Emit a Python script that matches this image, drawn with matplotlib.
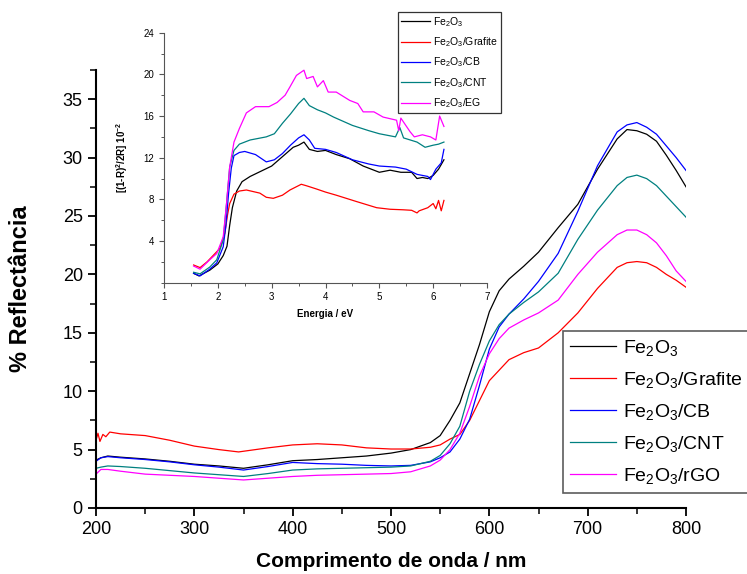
import numpy as np
import matplotlib
matplotlib.use('Agg')
import matplotlib.pyplot as plt
from matplotlib.ticker import MultipleLocator

plt.rcParams['font.family'] = ['Liberation Sans', 'DejaVu Sans']
plt.rcParams['mathtext.default'] = 'regular'

# main plot: reflectance vs wavelength
wl = [200, 205, 212, 225, 250, 275, 300, 325, 350, 375, 400, 425, 450, 475, 500,
      520, 540, 550, 560, 570, 580, 590, 600, 610, 620, 635, 650, 670, 690, 710,
      730, 740, 750, 760, 770, 780, 790, 800]
r_fe2o3 = [4.1, 4.3, 4.45, 4.35, 4.2, 4.0, 3.75, 3.6, 3.4, 3.7, 4.05, 4.15, 4.3, 4.45, 4.7,
           5.0, 5.6, 6.2, 7.5, 9.0, 11.5, 14.0, 16.8, 18.6, 19.6, 20.7, 21.9, 24.0, 26.0, 29.0,
           31.6, 32.4, 32.3, 32.0, 31.4, 30.2, 28.9, 27.5]
r_cb = [4.0, 4.3, 4.4, 4.3, 4.15, 3.95, 3.7, 3.5, 3.25, 3.55, 3.9, 3.8, 3.75, 3.65, 3.6,
        3.65, 3.95, 4.3, 4.8, 5.9, 7.6, 10.5, 13.6, 15.5, 16.6, 17.9, 19.4, 21.8, 25.4, 29.3,
        32.2, 32.8, 33.0, 32.6, 32.0, 31.0, 30.0, 28.9]
r_cnt = [3.4, 3.5, 3.6, 3.55, 3.4, 3.2, 3.0, 2.85, 2.7, 2.95, 3.25, 3.35, 3.4, 3.45, 3.5,
         3.6, 4.0, 4.5, 5.5, 7.0, 10.0, 12.3, 14.3, 15.7, 16.6, 17.6, 18.5, 20.1, 23.0, 25.5,
         27.6, 28.3, 28.5, 28.2, 27.6, 26.7, 25.8, 24.9]
r_rgo = [2.9, 3.3, 3.3, 3.15, 2.9, 2.8, 2.7, 2.55, 2.4, 2.55, 2.7, 2.8, 2.85, 2.9, 2.95,
         3.1, 3.6, 4.1, 5.0, 6.4, 8.7, 11.3, 13.2, 14.5, 15.4, 16.1, 16.7, 17.8, 20.0, 21.9,
         23.4, 23.8, 23.8, 23.4, 22.7, 21.6, 20.3, 19.4]
wl_graf = [200, 202, 204, 207, 210, 214, 225, 250, 275, 300, 325, 345, 375, 400, 425,
           450, 475, 500, 520, 540, 550, 560, 570, 580, 590, 600, 610, 620, 635, 650,
           670, 690, 710, 730, 740, 750, 760, 770, 780, 790, 800]
r_graf = [5.8, 6.4, 5.7, 6.3, 6.1, 6.5, 6.35, 6.2, 5.8, 5.3, 5.0, 4.8, 5.15, 5.4, 5.5,
          5.4, 5.15, 5.05, 5.05, 5.2, 5.4, 5.9, 6.3, 7.5, 9.2, 10.9, 11.8, 12.7, 13.3, 13.7,
          15.0, 16.7, 18.8, 20.6, 21.0, 21.1, 21.0, 20.6, 20.0, 19.5, 18.9]

# inset: [(1-R)^2/2R] vs energy
e_fe2o3 = [1.55, 1.65, 1.85, 2.0, 2.1, 2.17, 2.22, 2.27, 2.35, 2.45, 2.6, 2.8, 3.0, 3.2, 3.4,
           3.5, 3.6, 3.7, 3.85, 4.0, 4.2, 4.45, 4.7, 5.0, 5.2, 5.4, 5.6, 5.7, 5.8, 5.9, 6.0,
           6.1, 6.2]
k_fe2o3 = [0.9, 0.65, 1.2, 1.8, 2.6, 3.5, 5.5, 7.2, 8.8, 9.7, 10.2, 10.7, 11.2, 12.1, 13.0,
           13.2, 13.5, 12.8, 12.6, 12.7, 12.3, 11.9, 11.2, 10.6, 10.8, 10.6, 10.6, 10.0, 10.1,
           10.0, 10.3, 10.9, 11.8]
e_graf = [1.55, 1.67, 1.8, 1.92, 2.04, 2.13, 2.18, 2.22, 2.3, 2.4, 2.53, 2.78, 2.9, 3.03,
          3.2, 3.34, 3.55, 3.65, 3.83, 4.0, 4.2, 4.57, 4.95, 5.2, 5.44, 5.6, 5.7, 5.74, 5.9,
          6.0, 6.05, 6.1, 6.15, 6.2]
k_graf = [1.7, 1.45, 2.0, 2.65, 3.3, 4.75, 6.5, 7.6, 8.5, 8.8, 8.9, 8.6, 8.2, 8.1,
          8.4, 8.9, 9.45, 9.3, 9.0, 8.7, 8.4, 7.8, 7.2, 7.05, 7.0, 6.95, 6.7, 6.9, 7.2,
          7.6, 7.1, 7.9, 6.9, 7.9]
e_cb = [1.55, 1.67, 1.85, 1.98, 2.1, 2.15, 2.2, 2.25, 2.3, 2.4, 2.5, 2.7, 2.9, 3.05, 3.2,
        3.35, 3.5, 3.6, 3.7, 3.8, 4.0, 4.2, 4.5, 4.8, 5.0, 5.3, 5.5, 5.7, 5.9, 5.95, 6.05,
        6.15, 6.2]
k_cb = [0.9, 0.65, 1.3, 1.9, 3.45, 5.5, 8.6, 11.0, 12.2, 12.5, 12.6, 12.3, 11.6, 11.8, 12.4,
        13.2, 13.9, 14.2, 13.7, 12.9, 12.8, 12.5, 11.8, 11.4, 11.2, 11.1, 10.9, 10.4, 10.2,
        9.9, 10.9, 11.5, 12.8]
e_cnt = [1.55, 1.67, 1.85, 1.98, 2.1, 2.16, 2.22, 2.3, 2.4, 2.6, 2.9, 3.05, 3.2, 3.35, 3.5,
         3.6, 3.7, 3.85, 4.0, 4.15, 4.5, 4.8, 5.0, 5.3, 5.38, 5.45, 5.7, 5.85, 6.0, 6.1, 6.2]
k_cnt = [1.0, 0.85, 1.5, 2.2, 4.1, 7.5, 11.1, 12.7, 13.3, 13.7, 14.0, 14.3, 15.3, 16.2, 17.2,
         17.7, 17.0, 16.6, 16.3, 15.9, 15.1, 14.6, 14.3, 14.0, 14.9, 13.9, 13.5, 13.0, 13.2,
         13.3, 13.5]
e_eg = [1.55, 1.67, 1.85, 1.98, 2.1, 2.16, 2.22, 2.3, 2.4, 2.53, 2.7, 2.95, 3.1, 3.25, 3.34,
        3.46, 3.6, 3.65, 3.77, 3.85, 3.96, 4.05, 4.2, 4.45, 4.6, 4.7, 4.9, 5.07, 5.32, 5.36,
        5.4, 5.57, 5.65, 5.8, 5.95, 6.05, 6.12, 6.2]
k_eg = [1.6, 1.3, 2.2, 2.8, 4.4, 7.5, 11.1, 13.5, 14.8, 16.3, 16.9, 16.9, 17.3, 18.0, 18.8,
        19.9, 20.4, 19.6, 19.8, 18.8, 19.4, 18.3, 18.3, 17.5, 17.2, 16.4, 16.4, 15.9, 15.6,
        14.6, 15.8, 14.5, 14.0, 14.2, 14.0, 13.7, 16.0, 15.0]

colors = ['black', '#ff0000', '#0000ff', '#008080', '#ff00ff']
fe = 'Fe$_2$O$_3$'

fig = plt.figure(figsize=(7.47, 5.74), dpi=100)
ax = fig.add_axes([96/747, 66/574, 590/747, 438/574])

ax.plot(wl, r_fe2o3, color=colors[0], lw=0.9, label=fe)
ax.plot(wl_graf, r_graf, color=colors[1], lw=0.9, label=fe + '/Grafite')
ax.plot(wl, r_cb, color=colors[2], lw=0.9, label=fe + '/CB')
ax.plot(wl, r_cnt, color=colors[3], lw=0.9, label=fe + '/CNT')
ax.plot(wl, r_rgo, color=colors[4], lw=0.9, label=fe + '/rGO')

ax.set_xlim(200, 800)
ax.set_ylim(0, 37.5)
ax.xaxis.set_major_locator(MultipleLocator(100))
ax.xaxis.set_minor_locator(MultipleLocator(50))
ax.yaxis.set_major_locator(MultipleLocator(5))
ax.yaxis.set_minor_locator(MultipleLocator(2.5))
ax.spines['top'].set_visible(False)
ax.spines['right'].set_visible(False)
for s in ['left', 'bottom']:
    ax.spines[s].set_linewidth(1.5)
ax.tick_params(which='major', direction='out', length=6, width=1.3, labelsize=13)
ax.tick_params(which='minor', direction='out', length=4, width=1.1)
ax.set_xlabel('Comprimento de onda / nm', fontsize=15, fontweight='bold', labelpad=10)
ax.set_ylabel('% Reflectância', fontsize=17, fontweight='bold', labelpad=22)

leg = ax.legend(loc='upper left', bbox_to_anchor=(563/747, 1 - 331/574),
                bbox_transform=fig.transFigure, fontsize=14, frameon=True,
                fancybox=False, handlelength=2.4, labelspacing=0.62,
                borderpad=0.35, handletextpad=0.35, borderaxespad=0)
leg.get_frame().set_edgecolor('#333333')
leg.get_frame().set_linewidth(1.2)

# inset
ins = fig.add_axes([164/747, (574 - 282.7)/574, 323/747, 250/574])
ins.plot(e_fe2o3, k_fe2o3, color=colors[0], lw=0.9, label=fe)
ins.plot(e_graf, k_graf, color=colors[1], lw=0.9, label=fe + '/Grafite')
ins.plot(e_cb, k_cb, color=colors[2], lw=0.9, label=fe + '/CB')
ins.plot(e_cnt, k_cnt, color=colors[3], lw=0.9, label=fe + '/CNT')
ins.plot(e_eg, k_eg, color=colors[4], lw=0.9, label=fe + '/EG')

ins.set_xlim(1, 7)
ins.set_ylim(0, 24)
ins.set_xticks([1, 2, 3, 4, 5, 6, 7])
ins.set_yticks([4, 8, 12, 16, 20, 24])
ins.xaxis.set_minor_locator(MultipleLocator(0.5))
ins.yaxis.set_minor_locator(MultipleLocator(2))
ins.spines['top'].set_visible(False)
ins.spines['right'].set_visible(False)
for s in ['left', 'bottom']:
    ins.spines[s].set_color('#555555')
ins.tick_params(which='major', direction='out', length=3.5, width=0.8, labelsize=7,
                color='#555555')
ins.tick_params(which='minor', direction='out', length=2, width=0.7, color='#555555')
ins.set_xlabel('Energia / eV', fontsize=7, fontweight='bold', labelpad=5)
ins.set_ylabel('[(1-R)$^2$/2R] 10$^{-2}$', fontsize=7, fontweight='bold', labelpad=10)

ileg = ins.legend(loc='upper left', bbox_to_anchor=(398/747, 1 - 12/574),
                  bbox_transform=fig.transFigure, fontsize=7.5, frameon=True,
                  fancybox=False, handlelength=2.8, labelspacing=0.62,
                  borderpad=0.3, handletextpad=0.25, borderaxespad=0)
ileg.get_frame().set_edgecolor('black')
ileg.get_frame().set_linewidth(0.9)

fig.savefig('out.png', dpi=100)
